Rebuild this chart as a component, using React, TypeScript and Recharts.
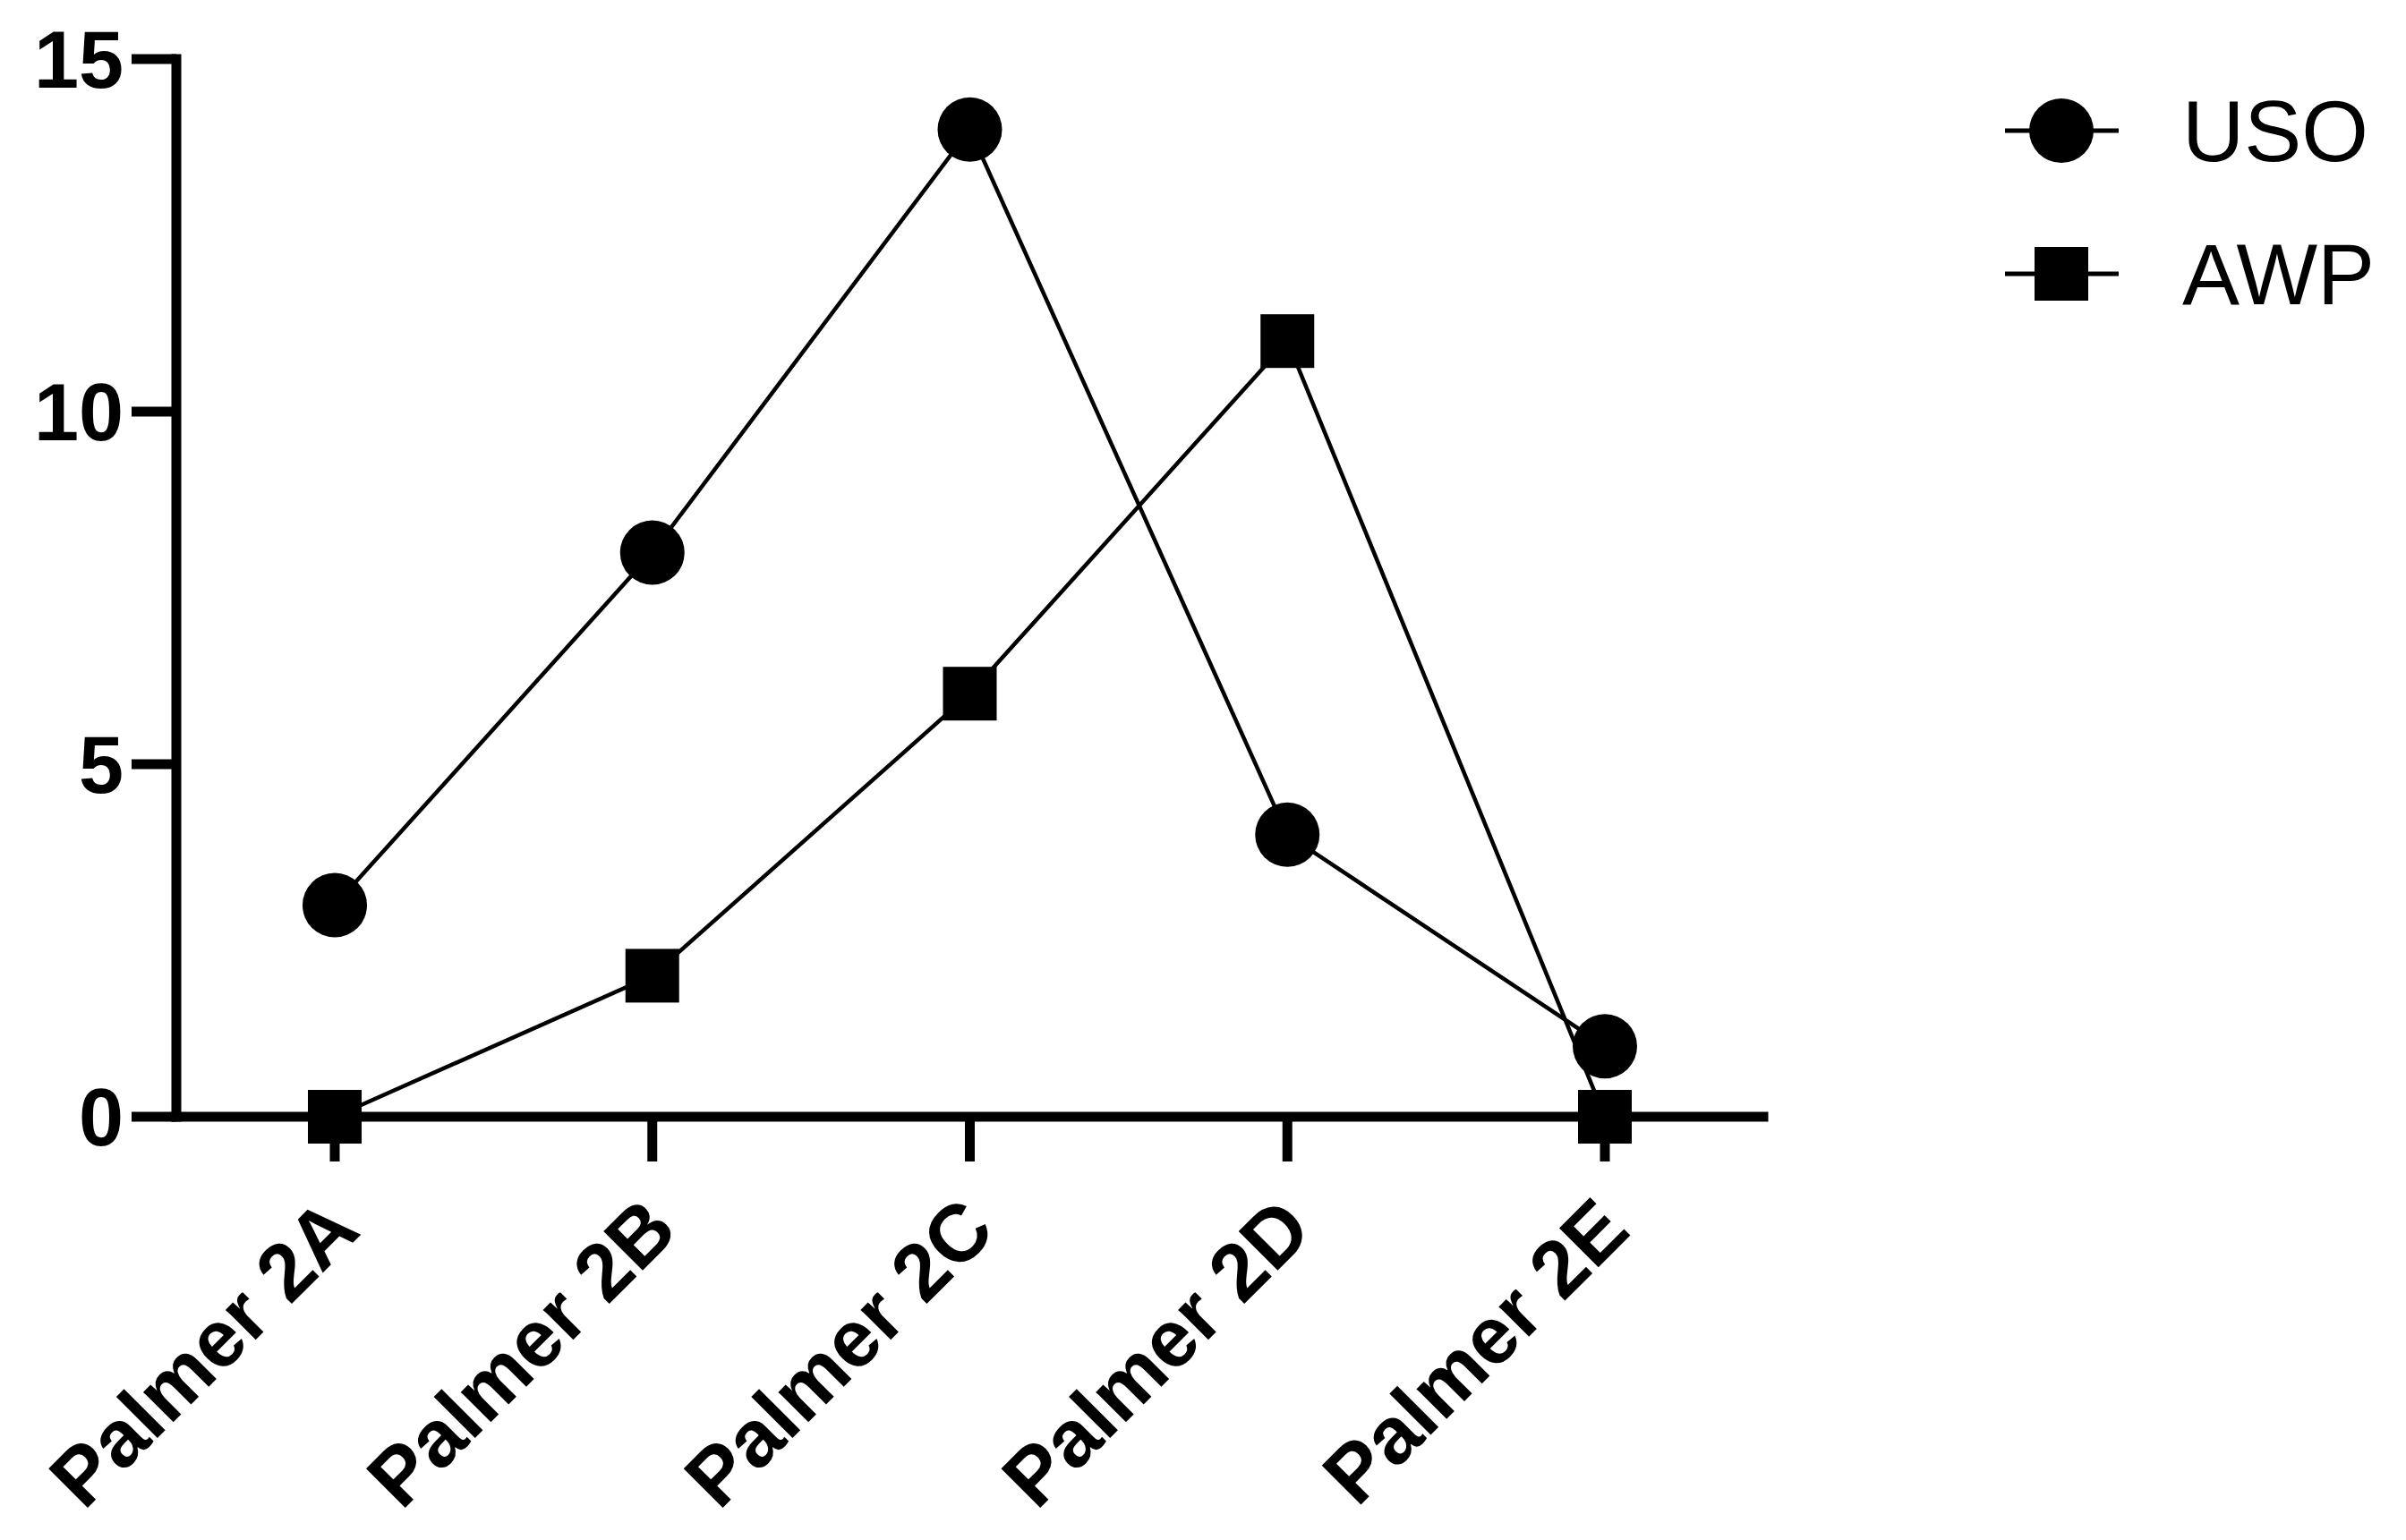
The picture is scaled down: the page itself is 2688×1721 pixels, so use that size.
import React from 'react'
import { LineChart, Line, XAxis, YAxis, Legend } from 'recharts'

const categories = ['Palmer 2A', 'Palmer 2B', 'Palmer 2C', 'Palmer 2D', 'Palmer 2E']
const usoValues = [3, 8, 14, 4, 1]
const awpValues = [0, 2, 6, 11, 0]
const yTicks = [0, 5, 10, 15]
const seriesNames = ['USO', 'AWP']

const data = categories.map((name, i) => ({ name, USO: usoValues[i], AWP: awpValues[i] }))

const FONT = '"Liberation Sans", Arial, Helvetica, sans-serif'

const CircleDot = (props: any) => {
  const { cx, cy, index } = props
  if (cx == null || cy == null) return null
  return <circle key={`uso-${index}`} cx={cx} cy={cy} r={36} fill="#000" />
}

const SquareDot = (props: any) => {
  const { cx, cy, index } = props
  if (cx == null || cy == null) return null
  return <rect key={`awp-${index}`} x={cx - 30} y={cy - 30} width={60} height={60} fill="#000" />
}

const XTick = (props: any) => {
  const { x, y, payload } = props
  return (
    <text
      transform={`translate(${x + 31},${y + 80}) rotate(-45)`}
      textAnchor="end"
      fontFamily={FONT}
      fontWeight="bold"
      fontSize={90}
      fill="#000"
    >
      {payload.value}
    </text>
  )
}

// legend drawn as its own little svg, top right
const LegendContent = () => (
  <svg width={488} height={400}>
    {seriesNames.map((name, i) => {
      const cy = 146 + i * 160
      return (
        <g key={name}>
          <line x1={40} x2={167} y1={cy} y2={cy} stroke="#000" strokeWidth={5} />
          {i === 0 ? (
            <circle cx={103} cy={cy} r={36} fill="#000" />
          ) : (
            <rect x={73} y={cy - 30} width={60} height={60} fill="#000" />
          )}
          <text x={238} y={cy + 34} fontFamily={FONT} fontSize={96} fill="#000">
            {name}
          </text>
        </g>
      )
    })}
  </svg>
)

export default function App() {
  return (
    <div style={{ position: 'absolute', left: 0, top: 0, width: 2688, height: 1721, background: '#fff' }}>
      <LineChart width={2688} height={1721} data={data} margin={{ top: 66, right: 718, bottom: 0, left: 0 }}>
        <XAxis
          dataKey="name"
          height={473}
          padding={{ left: 177, right: 177 }}
          axisLine={{ stroke: '#000', strokeWidth: 11, strokeLinecap: 'square' }}
          tickLine={{ stroke: '#000', strokeWidth: 11 }}
          tickSize={50}
          tickMargin={0}
          tick={<XTick />}
          interval={0}
        />
        <YAxis
          width={197}
          domain={[0, 15]}
          ticks={yTicks}
          axisLine={{ stroke: '#000', strokeWidth: 11, strokeLinecap: 'square' }}
          tickLine={{ stroke: '#000', strokeWidth: 11 }}
          tickSize={50}
          tickMargin={9}
          tick={{ fontFamily: FONT, fontWeight: 'bold', fontSize: 90, fill: '#000' }}
        />
        <Legend
          layout="horizontal"
          verticalAlign="middle"
          align="center"
          content={<LegendContent />}
          wrapperStyle={{ position: 'absolute', left: 2200, top: 0, width: 488, height: 400 }}
        />
        <Line
          dataKey="USO"
          name="USO"
          stroke="#000"
          strokeWidth={4.5}
          dot={CircleDot}
          activeDot={false}
          isAnimationActive={false}
          zIndex={600}
        />
        <Line
          dataKey="AWP"
          name="AWP"
          stroke="#000"
          strokeWidth={4.5}
          dot={SquareDot}
          activeDot={false}
          isAnimationActive={false}
          zIndex={600}
        />
      </LineChart>
    </div>
  )
}
